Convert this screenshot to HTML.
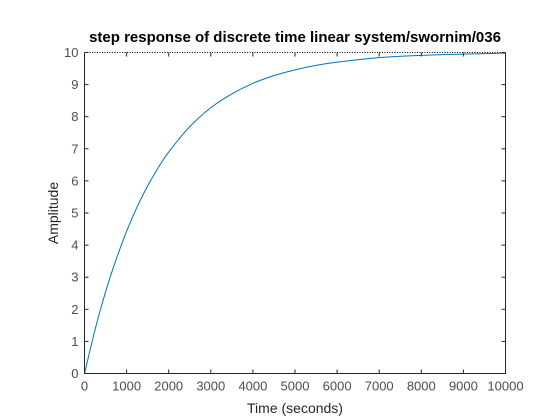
<!DOCTYPE html>
<html><head><meta charset="utf-8"><style>
body{margin:0;background:#fff;}
svg{display:block;font-family:"Liberation Sans",sans-serif;}
</style></head><body>
<svg id="chart" width="560" height="420">
<rect width="560" height="420" fill="#fff"/>
<rect x="84.5" y="52.5" width="421" height="321" fill="#fff" stroke="none"/>
<text x="295" y="42" text-anchor="middle" font-size="15" font-weight="bold" fill="#000">step response of discrete time linear system/swornim/036</text>
<text x="295" y="413" text-anchor="middle" font-size="14" fill="#262626">Time (seconds)</text>
<text transform="translate(58,213) rotate(-90)" text-anchor="middle" font-size="14" fill="#262626">Amplitude</text>
</svg>
<script>
const times=[0,250,500,750,1000,1250,1500,1750,2000,2500,3000,3500,4000,4500,5000,5500,6000,7000,8000,9000,10000];
const amps=[0,1.36,2.54,3.55,4.43,5.19,5.84,6.41,6.90,7.69,8.28,8.71,9.04,9.28,9.46,9.60,9.70,9.84,9.91,9.95,9.98];
const xTicks=[0,1000,2000,3000,4000,5000,6000,7000,8000,9000,10000];
const yTicks=[0,1,2,3,4,5,6,7,8,9,10];
const steady=[10];
const X0=84.5,X1=505.5,Y0=373.5,Y1=52.5;
const sx=v=>X0+(v-0)/(10000-0)*(X1-X0);
const sy=v=>Y0-(v-0)/(10-0)*(Y0-Y1);
const NS="http://www.w3.org/2000/svg";
const svg=document.getElementById('chart');
function mk(t,a){const e=document.createElementNS(NS,t);for(const k in a)e.setAttribute(k,a[k]);svg.appendChild(e);return e;}
const ss=mk('line',{x1:X0,x2:X1,y1:sy(steady[0]),y2:sy(steady[0]),stroke:'#000','stroke-width':1,'stroke-dasharray':'1,1.5'});


const pts=times.map((t,i)=>[sx(t),sy(amps[i])]);
let d='M'+pts[0][0]+','+pts[0][1];
for(let i=0;i<pts.length-1;i++){const p0=pts[Math.max(0,i-1)],p1=pts[i],p2=pts[i+1],p3=pts[Math.min(pts.length-1,i+2)];
d+=' C'+(p1[0]+(p2[0]-p0[0])/6)+','+(p1[1]+(p2[1]-p0[1])/6)+' '+(p2[0]-(p3[0]-p1[0])/6)+','+(p2[1]-(p3[1]-p1[1])/6)+' '+p2[0]+','+p2[1];}
const line=mk('path',{d:d,fill:'none',stroke:'#0072bd','stroke-width':1});


const ax=mk('path',{d:`M${X0},${Y1}V${Y0}H${X1}V${Y1}`,fill:'none',stroke:'#262626','stroke-width':1});


xTicks.forEach(v=>{const x=sx(v);
 mk('line',{x1:x,x2:x,y1:Y0,y2:Y0-4,stroke:'#262626'});
 mk('line',{x1:x,x2:x,y1:Y1,y2:Y1+4,stroke:'#262626'});
 const t=mk('text',{x:x,y:Y0+17,'text-anchor':'middle','font-size':13,fill:'#4d4d4d'});t.textContent=v;
 
 });
yTicks.forEach(v=>{const y=sy(v);
 mk('line',{x1:X0,x2:X0+4,y1:y,y2:y,stroke:'#262626'});
 mk('line',{x1:X1,x2:X1-4,y1:y,y2:y,stroke:'#262626'});
 const t=mk('text',{x:X0-6,y:y+4.5,'text-anchor':'end','font-size':13,fill:'#4d4d4d'});t.textContent=v;
 
 });
</script>
</body></html>
